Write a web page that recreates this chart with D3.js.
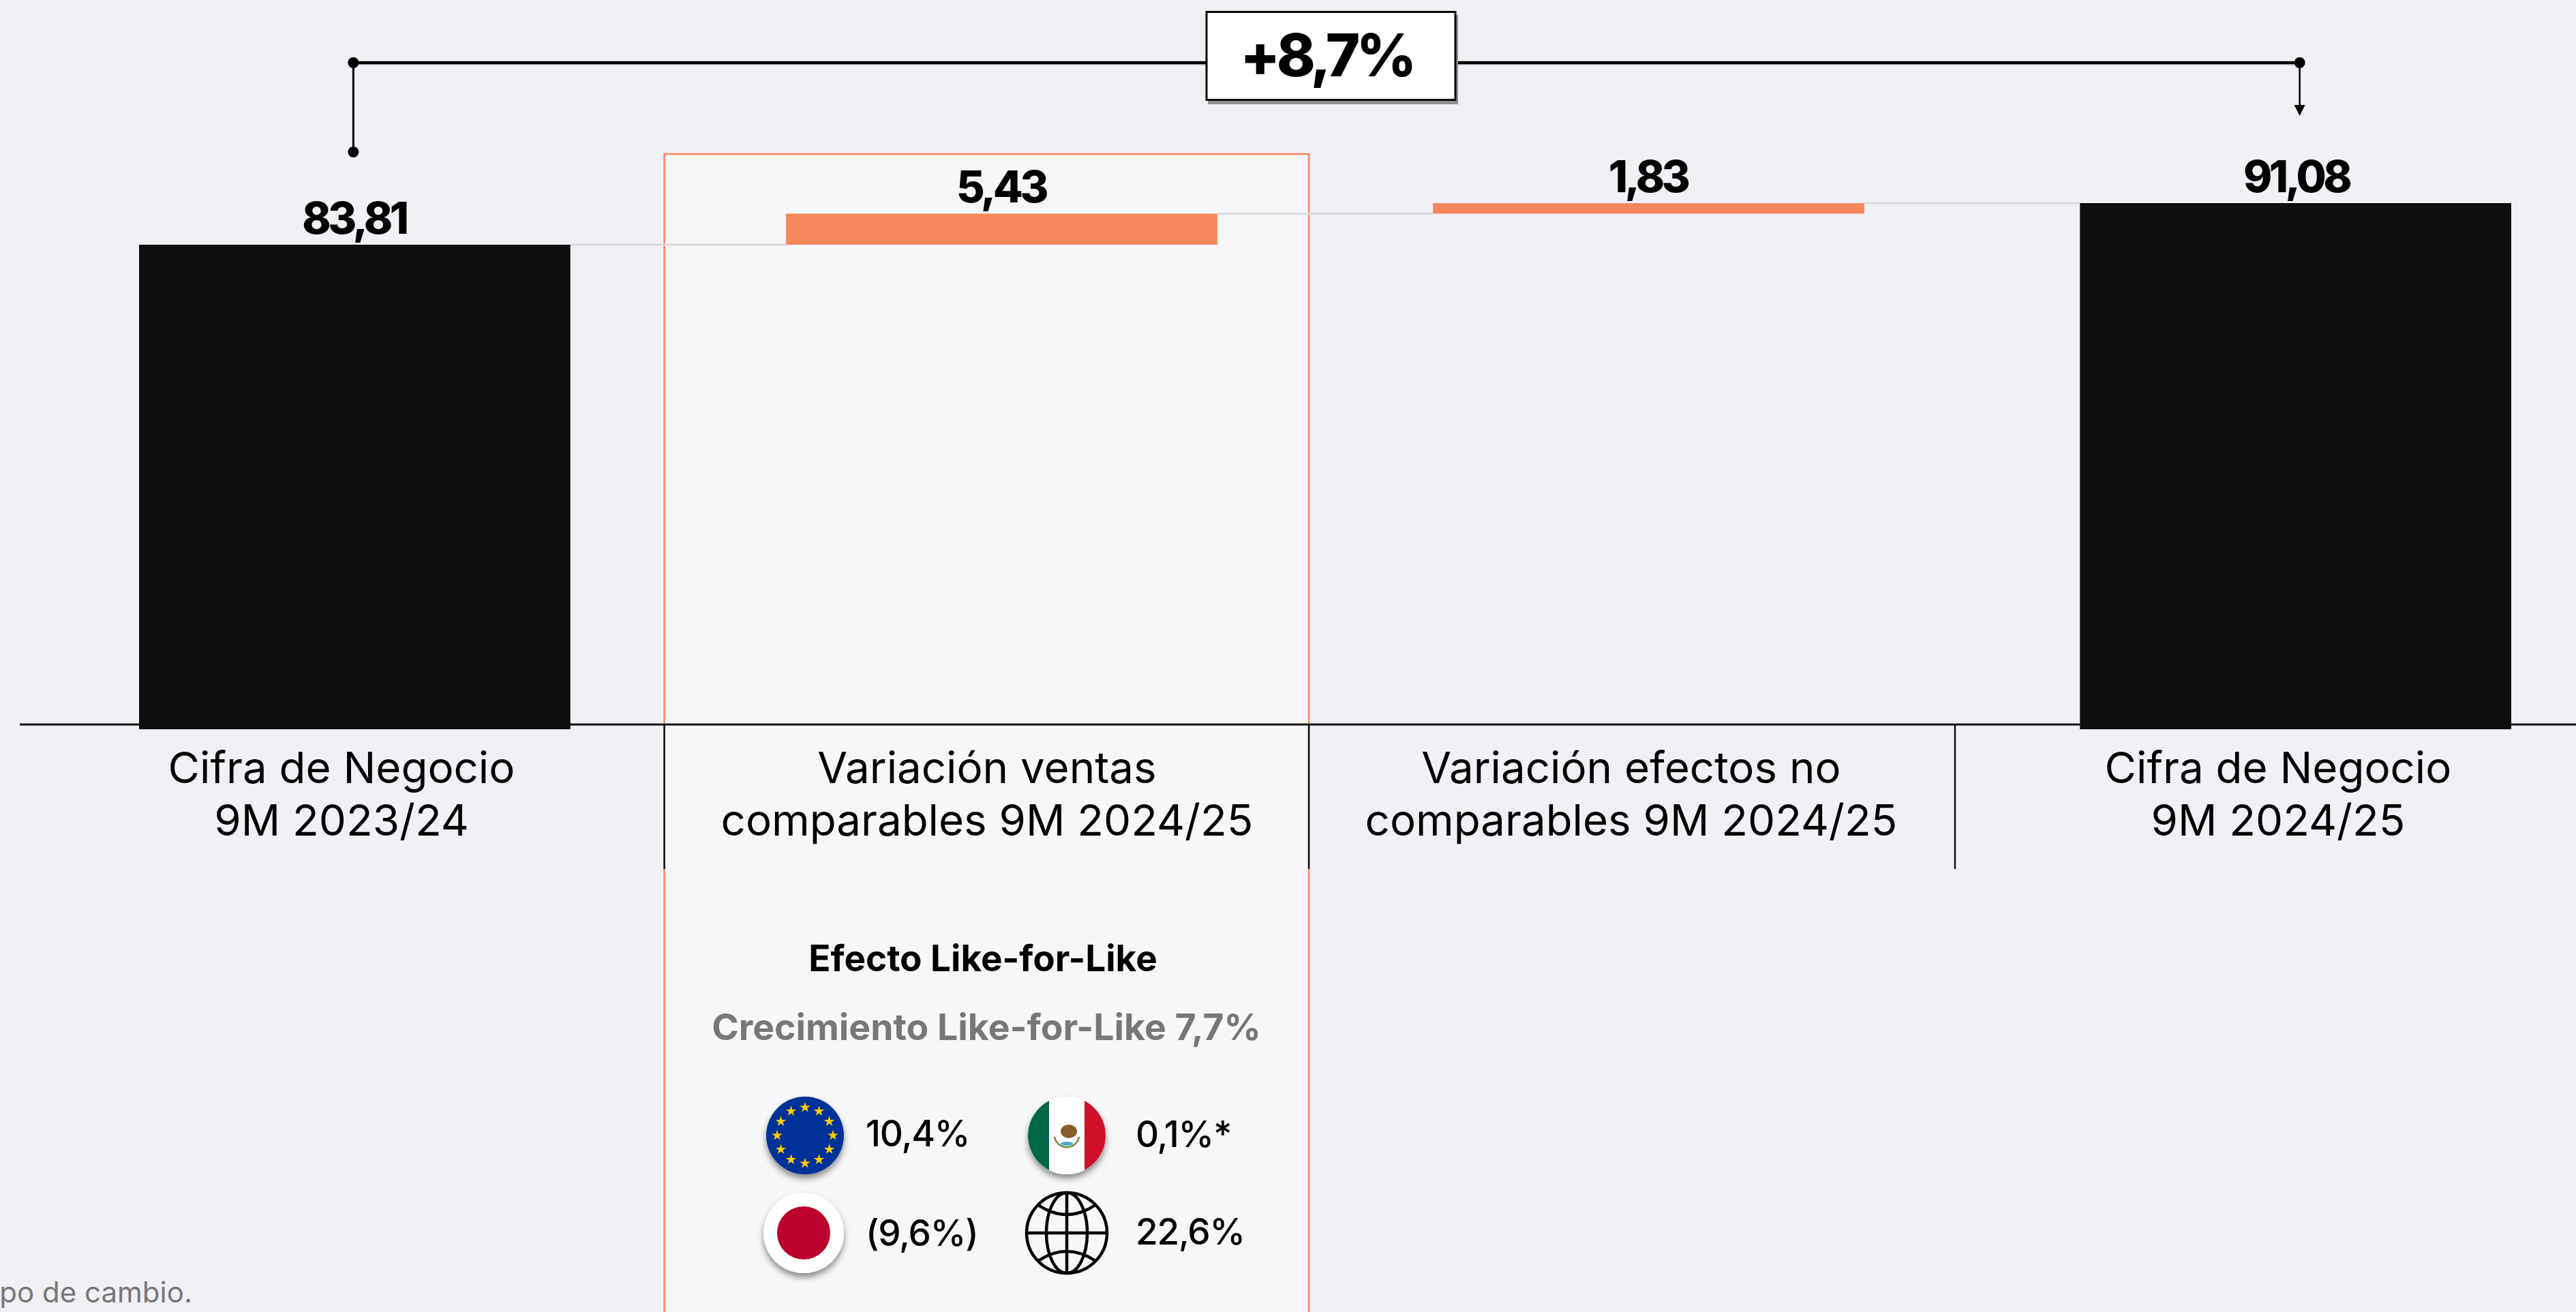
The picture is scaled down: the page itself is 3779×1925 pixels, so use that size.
<!DOCTYPE html>
<html>
<head>
<meta charset="utf-8">
<script src="https://cdn.jsdelivr.net/npm/d3@7"></script>
<style>
html, body { margin: 0; padding: 0; background: #f0f0f5; overflow: hidden; }
svg { display: block; font-family: Inter, sans-serif; }
</style>
</head>
<body>
<svg id="chart" width="3779" height="1925"></svg>
<script>
// Data
var categories = ["Cifra de Negocio|9M 2023/24", "Variación ventas|comparables 9M 2024/25", "Variación efectos no|comparables 9M 2024/25", "Cifra de Negocio|9M 2024/25"];
var values = [83.81, 5.43, 1.83, 91.08];
var valueLabels = ["83,81", "5,43", "1,83", "91,08"];
var isTotal = [true, false, false, true];
var growthLabel = "+8,7%";
var lflTitle = "Efecto Like-for-Like";
var lflSubtitle = "Crecimiento Like-for-Like 7,7%";
var regionNames = ["eu", "mx", "jp", "world"];
var regionLabels = ["10,4%", "0,1%*", "(9,6%)", "22,6%"];
var footnote = "po de cambio.";

var w = 3779;
var h = 1925;
var orange = "#f6875c";
var black = "#0e0e0e";

var svg = d3.select("#chart");

// Scales
var xScale = d3.scaleBand()
    .domain(d3.range(categories.length))
    .range([204, 3684])
    .paddingInner(1 / 3);

var yScale = d3.scaleLinear()
    .domain([0, 91.08])
    .range([1063, 298]);

// Shadow used by the flags
var defs = svg.append("defs");
var shadow = defs.append("filter").attr("id", "flagShadow")
    .attr("x", "-30%").attr("y", "-30%").attr("width", "160%").attr("height", "170%");
shadow.append("feDropShadow")
    .attr("dx", 0).attr("dy", 6).attr("stdDeviation", 5)
    .attr("flood-color", "#000").attr("flood-opacity", 0.45);

// Running start of each step in the waterfall
var running = 0;
var bars = values.map(function (d, i) {
    var bar;
    if (isTotal[i]) {
        bar = { start: 0, end: d };
        running = d;
    } else {
        bar = { start: running, end: running + d };
        running += d;
    }
    return bar;
});

// Highlight panel behind the second column
var panelLeft = xScale(1) - 178.5;
var panelRight = panelLeft + 945.5;
svg.append("rect")
    .attr("x", panelLeft)
    .attr("y", 226)
    .attr("width", panelRight - panelLeft)
    .attr("height", h - 226 + 10)
    .attr("fill", "#f7f7fa")
    .attr("stroke", orange)
    .attr("stroke-width", 2.5);

// Connectors between the bars
var connectors = d3.range(bars.length - 1);
svg.selectAll("line.connector")
    .data(connectors)
    .enter()
    .append("line")
    .attr("class", "connector")
    .attr("x1", function (i) { return xScale(i) + xScale.bandwidth(); })
    .attr("x2", function (i) { return xScale(i + 1); })
    .attr("y1", function (i) { return yScale(bars[i].end); })
    .attr("y2", function (i) { return yScale(bars[i].end); })
    .attr("stroke", "#dcdcdf")
    .attr("stroke-width", 3);

// Baseline and the column dividers
svg.append("line")
    .attr("x1", 29).attr("x2", w)
    .attr("y1", yScale(0)).attr("y2", yScale(0))
    .attr("stroke", "#111").attr("stroke-width", 3);

svg.selectAll("line.divider")
    .data([panelLeft, panelRight, 2868])
    .enter()
    .append("line")
    .attr("class", "divider")
    .attr("x1", function (d) { return d; })
    .attr("x2", function (d) { return d; })
    .attr("y1", yScale(0))
    .attr("y2", 1275)
    .attr("stroke", "#111")
    .attr("stroke-width", 2.5);

// Bars
svg.selectAll("rect.bar")
    .data(bars)
    .enter()
    .append("rect")
    .attr("class", "bar")
    .attr("x", function (d, i) { return xScale(i); })
    .attr("y", function (d) { return yScale(d.end); })
    .attr("width", xScale.bandwidth())
    .attr("height", function (d, i) {
        // the black bars run a little below the baseline
        return yScale(d.start) - yScale(d.end) + (isTotal[i] ? 7 : 0);
    })
    .attr("fill", function (d, i) { return isTotal[i] ? black : orange; });

// Value labels
var labelShift = [-1, -1, -1, 1];
svg.selectAll("text.value")
    .data(valueLabels)
    .enter()
    .append("text")
    .attr("class", "value")
    .attr("x", function (d, i) { return xScale(i) + xScale.bandwidth() / 2 + labelShift[i]; })
    .attr("y", function (d, i) { return yScale(bars[i].end) - 16; })
    .attr("text-anchor", "middle")
    .attr("font-size", 64)
    .attr("font-weight", 800)
    .attr("letter-spacing", -4.5)
    .attr("fill", "#000")
    .text(function (d) { return d; });

// Category labels, two lines each
var catCenters = [501, 1448, 2393, 3342];
categories.forEach(function (c, i) {
    c.split("|").forEach(function (line, j) {
        svg.append("text")
            .attr("class", "category")
            .attr("x", catCenters[i])
            .attr("y", 1149 + j * 77)
            .attr("text-anchor", "middle")
            .attr("font-size", 63.6)
            .attr("font-weight", 400)
            .attr("fill", "#000")
            .text(line);
    });
});

// Growth bracket on top
var bracketY = 92;
var leftX = xScale(0) + xScale.bandwidth() / 2 - 2;
var rightX = xScale(3) + xScale.bandwidth() / 2 + 6;

svg.append("line")
    .attr("x1", leftX).attr("x2", rightX)
    .attr("y1", bracketY + 2).attr("y2", bracketY + 2)
    .attr("stroke", "#d8d8da").attr("stroke-width", 4);
svg.append("line")
    .attr("x1", leftX).attr("x2", rightX)
    .attr("y1", bracketY).attr("y2", bracketY)
    .attr("stroke", "#000").attr("stroke-width", 4.5);
svg.append("line")
    .attr("x1", leftX).attr("x2", leftX)
    .attr("y1", bracketY).attr("y2", 223)
    .attr("stroke", "#000").attr("stroke-width", 3);
svg.append("line")
    .attr("x1", rightX).attr("x2", rightX)
    .attr("y1", bracketY).attr("y2", 158)
    .attr("stroke", "#000").attr("stroke-width", 2.5);
svg.selectAll("circle.dot")
    .data([[leftX, bracketY], [leftX, 223], [rightX, bracketY]])
    .enter()
    .append("circle")
    .attr("class", "dot")
    .attr("cx", function (d) { return d[0]; })
    .attr("cy", function (d) { return d[1]; })
    .attr("r", 8)
    .attr("fill", "#000");
svg.append("path")
    .attr("d", d3.line()([[rightX - 8, 154], [rightX + 8, 154], [rightX, 170]]) + "Z")
    .attr("fill", "#000");

svg.append("rect")
    .attr("x", 1772).attr("y", 22).attr("width", 367).attr("height", 131)
    .attr("fill", "#909090");
svg.append("rect")
    .attr("x", 1770).attr("y", 17.5).attr("width", 365).attr("height", 129)
    .attr("fill", "#fff").attr("stroke", "#000").attr("stroke-width", 3);
svg.append("text")
    .attr("x", 1946)
    .attr("y", 112)
    .attr("text-anchor", "middle")
    .attr("font-size", 86)
    .attr("font-weight", 800)
    .attr("letter-spacing", -5.5)
    .attr("fill", "#000")
    .text(growthLabel);

// Like-for-like panel
svg.append("text")
    .attr("x", 1442).attr("y", 1425)
    .attr("text-anchor", "middle")
    .attr("font-size", 53).attr("font-weight", 700)
    .attr("fill", "#000")
    .text(lflTitle);
svg.append("text")
    .attr("x", 1447).attr("y", 1526)
    .attr("text-anchor", "middle")
    .attr("font-size", 53.5).attr("font-weight", 700)
    .attr("fill", "#777")
    .text(lflSubtitle);

var iconX = d3.scalePoint().domain(["eu", "mx"]).range([1181, 1565]);
var iconY = d3.scalePoint().domain(["eu", "jp"]).range([1666, 1809]);

// EU flag
var eu = svg.append("g").attr("transform", "translate(" + iconX("eu") + "," + iconY("eu") + ")");
eu.append("circle").attr("r", 57).attr("fill", "#003399").attr("filter", "url(#flagShadow)");
var star = d3.symbol().type(d3.symbolStar).size(75);
eu.selectAll("path.star")
    .data(d3.range(12))
    .enter()
    .append("path")
    .attr("class", "star")
    .attr("d", star)
    .attr("fill", "#ffcc00")
    .attr("transform", function (d) {
        var a = d / 12 * 2 * Math.PI;
        return "translate(" + (41 * Math.sin(a)) + "," + (-41 * Math.cos(a)) + ")";
    });

// Mexican flag
defs.append("clipPath").attr("id", "mxClip").append("circle").attr("r", 57);
var mx = svg.append("g").attr("transform", "translate(" + iconX("mx") + "," + iconY("eu") + ")");
mx.append("circle").attr("r", 57).attr("fill", "#fff").attr("filter", "url(#flagShadow)");
var mxStripes = mx.append("g").attr("clip-path", "url(#mxClip)");
mxStripes.append("rect").attr("x", -57).attr("y", -57).attr("width", 31).attr("height", 114).attr("fill", "#006847");
mxStripes.append("rect").attr("x", 26).attr("y", -57).attr("width", 31).attr("height", 114).attr("fill", "#ce1126");
// small coat of arms
mx.append("ellipse").attr("cx", 3).attr("cy", -6).attr("rx", 12).attr("ry", 10).attr("fill", "#8a5a2b");
mx.append("ellipse").attr("cx", 0).attr("cy", 12).attr("rx", 9).attr("ry", 3).attr("fill", "#4ba6c4");
mx.append("path")
    .attr("d", d3.arc()({ innerRadius: 17, outerRadius: 19.5, startAngle: Math.PI * 0.55, endAngle: Math.PI * 1.45 }))
    .attr("transform", "translate(0,-1)")
    .attr("fill", "#6f8a3a");

// Japanese flag
var jp = svg.append("g").attr("transform", "translate(" + (iconX("eu") - 2) + "," + iconY("jp") + ")");
jp.append("circle").attr("r", 59).attr("fill", "#fff").attr("filter", "url(#flagShadow)");
jp.append("circle").attr("r", 39).attr("fill", "#bc002d");

// Globe icon
var globe = svg.append("g")
    .attr("transform", "translate(" + iconX("mx") + "," + iconY("jp") + ")")
    .attr("fill", "none")
    .attr("stroke", "#000")
    .attr("stroke-width", 4.5);
globe.append("circle").attr("r", 59);
globe.append("ellipse").attr("rx", 30).attr("ry", 59);
globe.append("line").attr("x1", -59).attr("x2", 59);
globe.append("line").attr("y1", -59).attr("y2", 59);
globe.append("path").attr("d", "M-42,-41Q0,-13 42,-41");
globe.append("path").attr("d", "M-42,41Q0,13 42,41");

// Region percentages
var regionX = [1270, 1666, 1270, 1666];
var regionY = [1682, 1683, 1828, 1826];
svg.selectAll("text.region")
    .data(regionLabels)
    .enter()
    .append("text")
    .attr("class", "region")
    .attr("x", function (d, i) { return regionX[i]; })
    .attr("y", function (d, i) { return regionY[i]; })
    .attr("font-size", 53)
    .attr("font-weight", 500)
    .attr("letter-spacing", -1.2)
    .attr("fill", "#000")
    .text(function (d) { return d; });

// Cut-off footnote
svg.append("text")
    .attr("x", 282).attr("y", 1911)
    .attr("text-anchor", "end")
    .attr("font-size", 42)
    .attr("fill", "#777")
    .text(footnote);
</script>
</body>
</html>
